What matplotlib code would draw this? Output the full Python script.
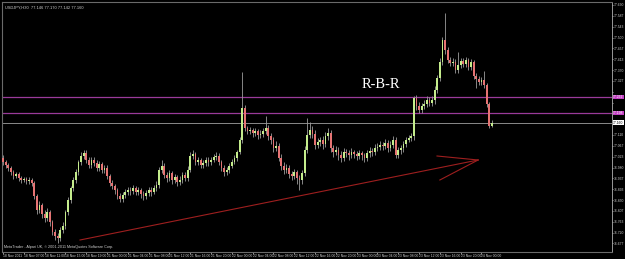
import numpy as np
import matplotlib
matplotlib.use("Agg")
import matplotlib.pyplot as plt
from matplotlib.transforms import blended_transform_factory

# ---- data (USDJPY, 30-minute bars) ----
chart_title = "USDJPY,H30  77.146 77.170 77.142 77.160"
footer = "MetaTrader - Alpari UK, \u00a9 2001-2011 MetaQuotes Software Corp."

first_open = 77.018
closes = [
    77.002, 76.990, 76.978, 76.962, 76.946, 76.954, 76.938, 76.930, 76.934, 76.926,
    76.930, 76.918, 76.866, 76.810, 76.830, 76.794, 76.778, 76.802, 76.762, 76.722,
    76.706, 76.698, 76.730, 76.746, 76.802, 76.850, 76.898, 76.930, 76.962, 77.002,
    77.026, 77.038, 77.010, 76.990, 77.010, 76.998, 76.978, 76.994, 76.970, 76.978,
    76.946, 76.918, 76.906, 76.890, 76.866, 76.854, 76.870, 76.882, 76.890, 76.886,
    76.898, 76.882, 76.890, 76.874, 76.866, 76.878, 76.890, 76.882, 76.898, 76.910,
    76.970, 76.986, 76.950, 76.938, 76.958, 76.930, 76.942, 76.922, 76.930, 76.950,
    76.938, 76.970, 77.026, 77.034, 77.002, 77.010, 76.990, 76.998, 77.010, 77.002,
    77.010, 77.022, 77.026, 77.002, 76.978, 76.962, 76.970, 76.986, 77.002, 77.018,
    77.042, 77.090, 77.218, 77.138, 77.126, 77.130, 77.118, 77.126, 77.110, 77.114,
    77.126, 77.138, 77.106, 77.090, 77.058, 77.066, 77.018, 76.986, 76.970, 76.978,
    76.954, 76.946, 76.962, 76.938, 76.930, 76.958, 77.050, 77.110, 77.130, 77.114,
    77.070, 77.082, 77.090, 77.074, 77.106, 77.118, 77.058, 77.042, 77.050, 77.030,
    77.018, 77.042, 77.038, 77.030, 77.042, 77.034, 77.026, 77.038, 77.030, 77.018,
    77.038, 77.046, 77.042, 77.058, 77.062, 77.070, 77.066, 77.078, 77.058, 77.070,
    77.090, 77.030, 77.050, 77.058, 77.074, 77.090, 77.098, 77.106, 77.258, 77.226,
    77.210, 77.226, 77.234, 77.250, 77.238, 77.250, 77.290, 77.338, 77.402, 77.490,
    77.450, 77.410, 77.398, 77.402, 77.370, 77.390, 77.406, 77.394, 77.410, 77.382,
    77.402, 77.346, 77.334, 77.322, 77.330, 77.310, 77.234, 77.146, 77.160,
]
highs = [
    77.030, 77.010, 76.998, 76.986, 76.970, 76.962, 76.962, 76.946, 76.942, 76.942,
    76.942, 76.938, 76.926, 76.874, 76.846, 76.838, 76.810, 76.818, 76.810, 76.770,
    76.734, 76.718, 76.742, 76.762, 76.810, 76.862, 76.906, 76.942, 76.974, 77.010,
    77.042, 77.050, 77.050, 77.022, 77.022, 77.022, 77.010, 77.006, 77.002, 76.990,
    76.990, 76.954, 76.930, 76.914, 76.898, 76.878, 76.882, 76.894, 76.902, 76.902,
    76.910, 76.906, 76.902, 76.898, 76.886, 76.890, 76.902, 76.902, 76.910, 76.926,
    76.982, 77.010, 76.998, 76.962, 76.970, 76.966, 76.954, 76.950, 76.946, 76.962,
    76.962, 76.986, 77.042, 77.050, 77.042, 77.022, 77.018, 77.010, 77.022, 77.022,
    77.022, 77.034, 77.042, 77.038, 77.010, 76.990, 76.982, 76.998, 77.014, 77.030,
    77.050, 77.102, 77.362, 77.230, 77.146, 77.142, 77.138, 77.138, 77.134, 77.130,
    77.138, 77.186, 77.150, 77.118, 77.102, 77.086, 77.078, 77.034, 77.002, 76.994,
    76.990, 76.966, 76.974, 76.970, 76.950, 76.970, 77.066, 77.178, 77.162, 77.146,
    77.130, 77.098, 77.102, 77.106, 77.122, 77.138, 77.130, 77.070, 77.066, 77.062,
    77.046, 77.058, 77.054, 77.050, 77.058, 77.050, 77.046, 77.050, 77.046, 77.038,
    77.050, 77.062, 77.058, 77.074, 77.078, 77.086, 77.082, 77.094, 77.090, 77.086,
    77.106, 77.102, 77.062, 77.070, 77.086, 77.102, 77.110, 77.118, 77.266, 77.270,
    77.242, 77.238, 77.250, 77.266, 77.262, 77.266, 77.306, 77.350, 77.418, 77.502,
    77.598, 77.462, 77.422, 77.418, 77.414, 77.442, 77.418, 77.418, 77.422, 77.418,
    77.414, 77.410, 77.358, 77.346, 77.342, 77.366, 77.318, 77.242, 77.170,
]
lows = [
    76.990, 76.978, 76.966, 76.950, 76.934, 76.938, 76.926, 76.918, 76.922, 76.914,
    76.914, 76.906, 76.854, 76.794, 76.798, 76.778, 76.762, 76.766, 76.746, 76.710,
    76.690, 76.678, 76.686, 76.718, 76.734, 76.790, 76.838, 76.886, 76.918, 76.950,
    76.990, 77.014, 76.998, 76.978, 76.978, 76.986, 76.966, 76.966, 76.958, 76.958,
    76.934, 76.906, 76.894, 76.874, 76.854, 76.842, 76.842, 76.858, 76.870, 76.870,
    76.874, 76.870, 76.870, 76.858, 76.850, 76.854, 76.866, 76.866, 76.874, 76.886,
    76.898, 76.958, 76.938, 76.922, 76.926, 76.914, 76.918, 76.906, 76.910, 76.918,
    76.926, 76.926, 76.962, 77.014, 76.990, 76.990, 76.978, 76.978, 76.986, 76.986,
    76.990, 77.002, 77.010, 76.990, 76.966, 76.946, 76.950, 76.958, 76.978, 76.994,
    77.006, 77.034, 77.078, 77.126, 77.114, 77.114, 77.102, 77.106, 77.094, 77.098,
    77.102, 77.114, 77.090, 77.074, 77.042, 77.046, 77.006, 76.970, 76.954, 76.958,
    76.938, 76.930, 76.934, 76.914, 76.890, 76.914, 76.946, 77.038, 77.098, 77.098,
    77.054, 77.058, 77.066, 77.054, 77.062, 77.090, 77.042, 77.022, 77.030, 77.010,
    77.002, 77.006, 77.022, 77.010, 77.018, 77.018, 77.010, 77.014, 77.010, 77.002,
    77.006, 77.022, 77.026, 77.030, 77.046, 77.050, 77.050, 77.054, 77.042, 77.046,
    77.058, 77.018, 77.018, 77.034, 77.042, 77.062, 77.082, 77.086, 77.090, 77.210,
    77.198, 77.198, 77.214, 77.222, 77.226, 77.226, 77.234, 77.278, 77.326, 77.390,
    77.434, 77.398, 77.386, 77.386, 77.358, 77.358, 77.378, 77.382, 77.382, 77.370,
    77.370, 77.334, 77.298, 77.310, 77.310, 77.298, 77.222, 77.138, 77.142,
]

time_labels = [
    "18 Nov 2011", "18 Nov 07:00", "18 Nov 11:00", "18 Nov 15:00", "18 Nov 19:00",
    "21 Nov 00:00", "21 Nov 04:00", "21 Nov 08:00", "21 Nov 12:00", "21 Nov 16:00",
    "21 Nov 20:00", "22 Nov 00:00", "22 Nov 04:00", "22 Nov 08:00", "22 Nov 12:00",
    "22 Nov 16:00", "22 Nov 20:00", "23 Nov 00:00", "23 Nov 04:00", "23 Nov 08:00",
    "23 Nov 12:00", "23 Nov 16:00", "23 Nov 20:00", "24 Nov 00:00",
]
bars_per_label = 8

price_ticks = [
    77.630, 77.587, 77.543, 77.500, 77.457, 77.413, 77.370, 77.327, 77.283, 77.240,
    77.197, 77.153, 77.110, 77.067, 77.023, 76.980, 76.937, 76.893, 76.850, 76.807,
    76.763, 76.720, 76.677,
]

# horizontal levels drawn on the chart (zone around the base)
zone_levels = [77.262, 77.198]

# hand-drawn arrow: trend line plus two arms (bar index, price)
arrow_tail = (29.6, 76.690)
arrow_tip = (182.7, 77.010)
arrow_arms = [(166.9, 77.026), (168.0, 76.930)]

annotation = "R-B-R"
annotation_pos = (145.4, 77.310)

# ---- colours ----
BG = "black"
BULL = "#c4ec8c"
BEAR = "#e57373"
WICK = "#9c9c9c"
ZONE = "#9a3a9a"
ZONE_BOX = "#c23fc2"
ARROW = "#9e1f1f"
FRAME = "#6a6a6a"
TXT = "#cfcfcf"
SMALL = "Liberation Sans"

closes = np.array(closes)
opens = np.concatenate([[first_open], closes[:-1]])
highs = np.maximum(np.array(highs), np.maximum(opens, closes))
lows = np.minimum(np.array(lows), np.minimum(opens, closes))
idx = np.arange(len(closes))

fig = plt.figure(figsize=(6.25, 2.59), dpi=100, facecolor=BG)
ax = fig.add_axes([2 / 625, 7 / 259, 610 / 625, 250 / 259], facecolor=BG)

up = closes >= opens
ax.vlines(idx, lows, highs, color=WICK, linewidth=0.6, zorder=2)
body_bottom = np.minimum(opens, closes)
body_height = np.maximum(np.abs(closes - opens), 0.002)
ax.bar(idx[up], body_height[up], bottom=body_bottom[up], width=0.72,
       color=BULL, linewidth=0, zorder=3)
ax.bar(idx[~up], body_height[~up], bottom=body_bottom[~up], width=0.72,
       color=BEAR, linewidth=0, zorder=3)

# levels
for lv in zone_levels:
    ax.axhline(lv, color=ZONE, linewidth=0.9, zorder=1)
ax.axhline(closes[-1], color="#8a8a8a", linewidth=0.7, zorder=1)

# arrow
ax.plot([arrow_tail[0], arrow_tip[0]], [arrow_tail[1], arrow_tip[1]],
        color=ARROW, linewidth=0.8, zorder=4)
for ex, ey in arrow_arms:
    ax.plot([ex, arrow_tip[0]], [ey, arrow_tip[1]], color=ARROW, linewidth=0.8, zorder=4)

ax.text(annotation_pos[0], annotation_pos[1], annotation, color="white",
        family="Liberation Serif", fontsize=10.5, ha="center", va="center")

ax.text(0.005, 0.985, chart_title, transform=ax.transAxes, color=TXT,
        family=SMALL, fontsize=2.9, ha="left", va="top")
ax.text(0.003, 0.012, footer, transform=ax.transAxes, color=TXT,
        family=SMALL, fontsize=2.7, ha="left", va="bottom")

# axes limits: 2.6 px per bar, 1 yen over 250 px
ax.set_xlim(-0.4, 234.2)
ax.set_ylim(76.642, 77.642)

# scale labels hidden behind the price boxes are left blank, as on the terminal
boxed = list(zone_levels) + [closes[-1]]
ax.yaxis.tick_right()
ax.set_yticks(price_ticks)
ax.set_yticklabels(["" if min(abs(p - b) for b in boxed) < 0.03 else f"{p:.3f}"
                    for p in price_ticks], family=SMALL)
ax.tick_params(axis="y", colors=TXT, labelsize=2.4, length=0.8, width=0.5, pad=0.3)

ax.set_xticks(idx[::bars_per_label][:len(time_labels)])
ax.set_xticklabels(time_labels, ha="left", family=SMALL)
ax.tick_params(axis="x", colors=TXT, labelsize=2.4, length=1.2, width=0.5, pad=0.4)

for side in ["left", "top", "bottom"]:
    ax.spines[side].set_color(FRAME)
    ax.spines[side].set_linewidth(0.8)
ax.spines["right"].set_color("#b0b0b0")
ax.spines["right"].set_linewidth(0.6)

# price boxes on the right scale
tr = blended_transform_factory(ax.transAxes, ax.transData)
for lv in zone_levels:
    ax.text(1.0015, lv, f"{lv:.3f}", transform=tr, color="white", fontsize=2.4,
            family=SMALL, va="center", ha="left", clip_on=False, zorder=6,
            bbox=dict(boxstyle="square,pad=0.12", fc=ZONE_BOX, ec="none"))
ax.text(1.0015, closes[-1], f"{closes[-1]:.3f}", transform=tr, color="black",
        fontsize=2.4, family=SMALL, va="center", ha="left", clip_on=False, zorder=6,
        bbox=dict(boxstyle="square,pad=0.12", fc="white", ec="none"))

fig.savefig("out.png", dpi=100, facecolor=BG)
